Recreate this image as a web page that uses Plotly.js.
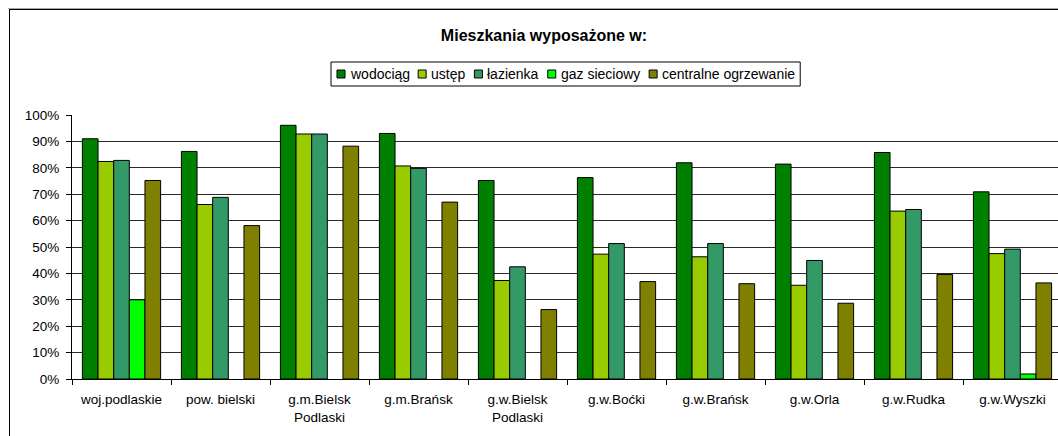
<!DOCTYPE html>
<html>
<head>
<meta charset="utf-8">
<script src="https://cdn.plot.ly/plotly-3.0.1.min.js"></script>
<style>
  html, body { margin: 0; padding: 0; width: 1058px; height: 436px; overflow: hidden; background: #fff; }
  #chart { position: absolute; left: 0; top: 0; width: 1088px; height: 450px; }
  #shade { position: absolute; left: 8px; top: 8px; width: 1200px; height: 1px; background: #a8a8a8; }
  #frame { position: absolute; left: 9px; top: 9px; width: 1200px; height: 600px; border: 1px solid #000; pointer-events: none; }
</style>
</head>
<body>
<div id="chart"></div>
<div id="shade"></div>
<div id="frame"></div>
<script>
// dane: odsetek mieszkań wyposażonych w instalacje (%)
const CATEGORIES = ["woj.podlaskie", "pow. bielski", "g.m.Bielsk<br>Podlaski", "g.m.Brańsk",
  "g.w.Bielsk<br>Podlaski", "g.w.Boćki", "g.w.Brańsk", "g.w.Orla", "g.w.Rudka", "g.w.Wyszki"];
const WODOCIAG = [91.0, 86.2, 96.1, 93.0, 75.2, 76.3, 81.9, 81.4, 85.8, 70.9];
const USTEP    = [82.4, 66.1, 92.8, 80.7, 37.3, 47.3, 46.3, 35.5, 63.6, 47.5];
const LAZIENKA = [82.8, 68.8, 92.8, 79.8, 42.5, 51.3, 51.3, 44.9, 64.2, 49.2];
const GAZ      = [30.0, null, null, null, null, null, null, null, null, 1.9];
const CO       = [75.2, 58.1, 88.2, 67.0, 26.3, 36.9, 36.1, 28.7, 39.6, 36.4];
const SERIES_NAMES  = ["wodociąg", "ustęp", "łazienka", "gaz sieciowy", "centralne ogrzewanie"];
const SERIES_VALUES = [WODOCIAG, USTEP, LAZIENKA, GAZ, CO];
const SERIES_COLORS = ["#008000", "#99CC00", "#339966", "#00FF00", "#808000"];
const Y_TICKS = [0, 10, 20, 30, 40, 50, 60, 70, 80, 90, 100];
const Y_LABELS = Y_TICKS.map(v => v + "%");

const FONT_FAMILY = '"Liberation Sans", Arial, sans-serif';
const W = 1088, H = 450, ML = 72, MR = 26, MT = 115, MB = 71;

const traces = SERIES_NAMES.map((name, i) => ({
  type: "bar",
  name: name,
  x: CATEGORIES,
  y: SERIES_VALUES[i],
  marker: { color: SERIES_COLORS[i], line: { color: "#000", width: 1 } },
  hovertemplate: "%{y}%<extra>" + name + "</extra>",
}));

// legenda rysowana ręcznie, żeby odstępy były takie jak w Excelu
const ctx = document.createElement("canvas").getContext("2d");
const LEG_SIZE = 14;
ctx.font = LEG_SIZE + "px " + FONT_FAMILY;
const px2x = px => (px - ML) / (W - ML - MR);
const px2y = py => (H - MB - py) / (H - MT - MB);
const legShapes = [];
const legNotes = [];
const legY = 74;
let cx = 337;
SERIES_NAMES.forEach((name, i) => {
  legShapes.push({
    type: "rect", xref: "paper", yref: "paper",
    x0: px2x(cx), x1: px2x(cx + 8), y0: px2y(legY + 4), y1: px2y(legY - 4),
    fillcolor: SERIES_COLORS[i], line: { color: "#000", width: 1 },
  });
  const tw = ctx.measureText(name).width;
  legNotes.push({
    xref: "paper", yref: "paper", x: px2x(cx + 12), y: px2y(legY),
    xanchor: "left", yanchor: "middle", showarrow: false, text: name,
    font: { size: LEG_SIZE }, borderpad: 0,
  });
  cx = cx + 13 + tw + 9;
});
legShapes.unshift({
  type: "rect", xref: "paper", yref: "paper",
  x0: px2x(331), x1: px2x(cx - 4), y0: px2y(86), y1: px2y(62),
  fillcolor: "#fff", line: { color: "#000", width: 1 },
});

const layout = {
  width: W, height: H,
  margin: { l: ML, r: MR, t: MT, b: MB, pad: 0 },
  paper_bgcolor: "rgba(0,0,0,0)",
  plot_bgcolor: "rgba(0,0,0,0)",
  font: { family: FONT_FAMILY, size: 13.5, color: "#000" },
  title: {
    text: "<b>Mieszkania wyposażone w:</b>", font: { size: 16 },
    xref: "container", x: 544 / W, xanchor: "center",
    yref: "container", y: 1 - 35 / H, yanchor: "middle",
  },
  barmode: "group", bargap: 0.21, bargroupgap: 0,
  showlegend: false,
  xaxis: {
    type: "category", range: [-0.5, 9.5],
    showline: true, linecolor: "#000", linewidth: 1,
    ticks: "outside", ticklen: 5, tickcolor: "#000", tickson: "boundaries",
    showgrid: false, ticklabelstandoff: 8,
  },
  yaxis: {
    range: [0, 100], tickmode: "array", tickvals: Y_TICKS, ticktext: Y_LABELS,
    showline: true, linecolor: "#000", linewidth: 1,
    ticks: "outside", ticklen: 5, tickcolor: "#000",
    gridcolor: "#2a2a2a", gridwidth: 1, zeroline: false, ticklabelstandoff: 4,
  },
  shapes: legShapes,
  annotations: legNotes,
};

Plotly.newPlot("chart", traces, layout, { displayModeBar: false, staticPlot: true });
</script>
</body>
</html>
